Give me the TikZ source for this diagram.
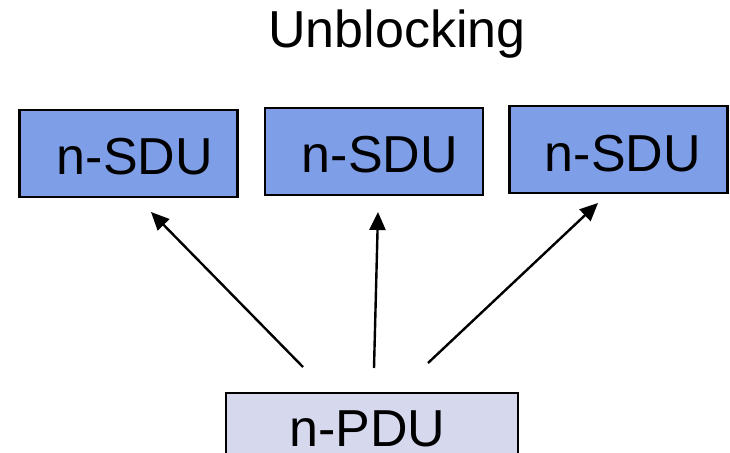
\documentclass[tikz,border=0pt]{standalone}
\usepackage{fontspec}
\setmainfont{Liberation Sans}
\usetikzlibrary{arrows.meta}
\definecolor{sdublue}{RGB}{127,158,232}
\definecolor{pdulav}{RGB}{214,216,238}
\tikzset{
  sdubox/.style={draw=black, line width=2.2pt, fill=sdublue, minimum width=218pt, minimum height=87pt, inner sep=0pt},
  pdubox/.style={draw=black, line width=2.2pt, fill=pdulav, minimum width=292pt, minimum height=70pt, inner sep=0pt},
  lbl/.style={font=\fontsize{52}{62}\selectfont, anchor=base, inner sep=0pt, text depth=0pt},
  flow/.style={line width=2.4pt, -{Triangle[length=18pt, width=16pt]}}
}
\begin{document}
\begin{tikzpicture}[x=1pt, y=-1pt]
  \useasboundingbox (0,0) rectangle (730,452);
  % title
  \node[lbl] (title) at (397,48) {Unblocking};
  % upper service data units
  \node[sdubox] (s1) at (128.5,153.5) {};
  \node[sdubox] (s2) at (374,151.5) {};
  \node[sdubox] (s3) at (618.5,149.5) {};
  \node[lbl] (t1) at (135,174) {n-SDU};
  \node[lbl] (t2) at (380,172) {n-SDU};
  \node[lbl] (t3) at (623,171) {n-SDU};
  % lower protocol data unit
  \node[pdubox] (p) at (372,428) {};
  \node[lbl] (tp) at (367.5,446) {n-PDU};
  % arrow ends
  \coordinate (a1) at (303,367);
  \coordinate (b1) at (151,212);
  \coordinate (a2) at (374,368);
  \coordinate (b2) at (378,212);
  \coordinate (a3) at (428,363);
  \coordinate (b3) at (598,203);
  \draw[flow] (a1) -- (b1);
  \draw[flow] (a2) -- (b2);
  \draw[flow] (a3) -- (b3);
\end{tikzpicture}
\end{document}
